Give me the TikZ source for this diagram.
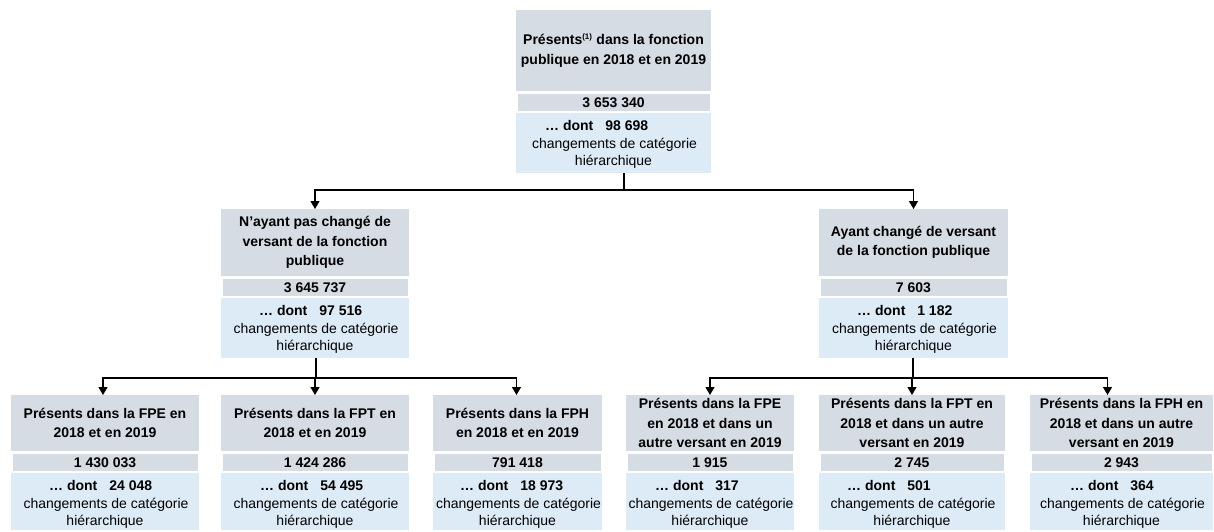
\documentclass[tikz,border=0pt]{standalone}
\usepackage{fontspec}
\setmainfont{Liberation Sans}
\usetikzlibrary{arrows.meta}
\definecolor{tgrey}{RGB}{214,220,228}
\definecolor{lblue}{RGB}{221,235,247}
\newcommand\blueh{60}
\newcommand\mypanel[9]{%
  \node[titlebox, minimum width={#3-#2}, minimum height={#5-#4}, anchor=north west] (#1t) at (#2,#4) {#6};
  \node[numbox, minimum width={#3-#2-3}, minimum height=17, anchor=north west] (#1n) at ({#2+1.5},{#5+3}) {#7};
  \node[bluebox, minimum width={#3-#2}, minimum height=\blueh, anchor=north west] (#1b) at (#2,{#5+22}) {};
  \node[dontline, anchor=base west] (#1d) at (#8,{#5+22+17}) {… dont\hspace{0.85em}#9};
  \node[plainline, anchor=base] (#1c) at ({(#2+#3)/2+1},{#5+22+35}) {changements de catégorie};
  \node[plainline, anchor=base] (#1h) at ({(#2+#3)/2},{#5+22+52.5}) {hiérarchique};
}
\begin{document}
\begin{tikzpicture}[x=1pt,y=-1pt,
  titlebox/.style={fill=tgrey, inner sep=0pt, outer sep=0pt, align=center,
    font=\fontsize{14}{19.5}\selectfont\bfseries},
  numbox/.style={fill=tgrey, inner sep=0pt, outer sep=0pt, align=center,
    font=\fontsize{14}{17}\selectfont\bfseries},
  bluebox/.style={fill=lblue, inner sep=0pt, outer sep=0pt},
  dontline/.style={inner sep=0pt, font=\fontsize{14}{17}\selectfont\bfseries},
  plainline/.style={inner sep=0pt, font=\fontsize{14}{17}\selectfont},
  conn/.style={line width=1.1pt, draw=black},
  arr/.style={conn, -{Triangle[width=9pt,length=8pt]}}]
\useasboundingbox[fill=white] (0,0) rectangle (1214,531);

\mypanel{T}{516}{711}{10}{91}{Présents\textsuperscript{\fontsize{8}{8}\selectfont (1)} dans la fonction\\publique en 2018 et en 2019}{3 653 340}{545}{98 698}
\mypanel{L}{221}{409}{209}{276}{N{\char"27}ayant pas changé de\\versant de la fonction\\publique}{3 645 737}{259}{97 516}
\mypanel{R}{819}{1008}{209}{276}{Ayant changé de versant\\de la fonction publique}{7 603}{857}{1 182}
\renewcommand\blueh{57}
\mypanel{Ba}{11}{199}{395}{451}{Présents dans la FPE en\\2018 et en 2019}{1 430 033}{49}{24 048}
\mypanel{Bb}{221}{409}{395}{451}{Présents dans la FPT en\\2018 et en 2019}{1 424 286}{260}{54 495}
\mypanel{Bc}{433}{602}{395}{451}{Présents dans la FPH\\en 2018 et en 2019}{791 418}{460}{18 973}
\mypanel{Bd}{626}{794}{395}{451}{Présents dans la FPE\\en 2018 et dans un\\autre versant en 2019}{1 915}{655}{317}
\mypanel{Be}{819}{1005}{395}{451}{Présents dans la FPT en\\2018 et dans un autre\\versant en 2019}{2 745}{847}{501}
\mypanel{Bf}{1030}{1213}{395}{451}{Présents dans la FPH en\\2018 et dans un autre\\versant en 2019}{2 943}{1070}{364}

\coordinate (j1) at (624,190);
\draw[conn] (Tb.south -| j1) -- (j1);
\draw[arr] (j1) -| (Lt.north);
\draw[arr] (j1) -| (Rt.north);

\coordinate (j2) at (316,378);
\draw[conn] (Lb.south -| j2) -- (j2);
\draw[arr] (j2) -| ([xshift=-2pt]Bat.north);
\draw[arr] (j2) -| (Bbt.north);
\draw[arr] (j2) -| ([xshift=-1pt]Bct.north);

\coordinate (j3) at (913,378);
\draw[conn] (Rb.south -| j3) -- (j3);
\draw[arr] (j3) -| (Bdt.north);
\draw[arr] (j3) -| (Bet.north);
\draw[arr] (j3) -| ([xshift=-14pt]Bft.north);
\end{tikzpicture}
\end{document}
